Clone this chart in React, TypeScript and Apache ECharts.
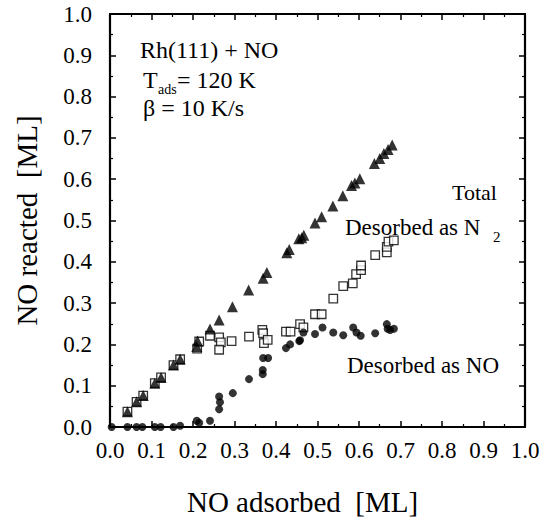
import React, { useEffect, useRef } from "react";
import * as echarts from "echarts";

const FONT = "Liberation Serif";

const tickLabels = ["0.0", "0.1", "0.2", "0.3", "0.4", "0.5", "0.6", "0.7", "0.8", "0.9", "1.0"];

// Total NO reacted (filled triangles)
const totalData: [number, number][] = [
  [0.042, 0.037], [0.064, 0.061], [0.08, 0.076], [0.108, 0.106], [0.123, 0.12],
  [0.153, 0.15], [0.169, 0.164], [0.209, 0.195], [0.211, 0.208], [0.241, 0.237],
  [0.263, 0.259], [0.295, 0.291], [0.334, 0.332], [0.369, 0.36], [0.378, 0.374],
  [0.426, 0.422], [0.432, 0.43], [0.455, 0.456], [0.462, 0.458], [0.467, 0.464],
  [0.494, 0.494], [0.51, 0.509], [0.537, 0.535], [0.561, 0.56], [0.582, 0.585],
  [0.59, 0.591], [0.602, 0.601], [0.637, 0.638], [0.65, 0.65], [0.66, 0.662],
  [0.67, 0.672], [0.68, 0.683],
];

// Desorbed as N2 (open squares)
const n2Data: [number, number][] = [
  [0.042, 0.037], [0.064, 0.061], [0.08, 0.076], [0.108, 0.106], [0.123, 0.12],
  [0.153, 0.15], [0.169, 0.164], [0.21, 0.19], [0.215, 0.207], [0.241, 0.221],
  [0.263, 0.217], [0.267, 0.205], [0.263, 0.187], [0.293, 0.208], [0.335, 0.219],
  [0.367, 0.235], [0.369, 0.227], [0.371, 0.203], [0.38, 0.211], [0.424, 0.231],
  [0.435, 0.231], [0.458, 0.249], [0.466, 0.241], [0.494, 0.273], [0.51, 0.273],
  [0.538, 0.311], [0.562, 0.341], [0.585, 0.348], [0.593, 0.37], [0.605, 0.38],
  [0.605, 0.391], [0.639, 0.416], [0.667, 0.423], [0.667, 0.436], [0.671, 0.449],
  [0.684, 0.452],
];

// Desorbed as NO (filled circles)
const noData: [number, number][] = [
  [0.004, 0.0], [0.042, 0.0], [0.064, 0.0], [0.078, 0.0], [0.108, 0.0],
  [0.122, 0.0], [0.153, 0.0], [0.169, 0.003], [0.209, 0.015], [0.215, 0.01],
  [0.241, 0.015], [0.263, 0.074], [0.265, 0.06], [0.263, 0.043], [0.296, 0.082],
  [0.335, 0.116], [0.368, 0.138], [0.368, 0.128], [0.369, 0.167], [0.381, 0.167],
  [0.424, 0.191], [0.434, 0.2], [0.456, 0.208], [0.458, 0.21], [0.466, 0.229],
  [0.494, 0.225], [0.512, 0.241], [0.538, 0.229], [0.562, 0.222], [0.586, 0.241],
  [0.594, 0.229], [0.604, 0.221], [0.639, 0.227], [0.667, 0.249], [0.669, 0.238],
  [0.675, 0.235], [0.684, 0.238],
];

const fmt = (v: number) => tickLabels[Math.round(v * 10)] ?? "";

function axisBase(showLabel: boolean) {
  return {
    type: "value" as const,
    min: 0,
    max: 1,
    interval: 0.1,
    axisLine: { show: true, onZero: false, lineStyle: { color: "#000", width: 2.2 } },
    axisTick: { show: true, inside: true, length: 6, lineStyle: { color: "#000", width: 1.5 } },
    minorTick: { show: true, splitNumber: 2, length: 3, lineStyle: { color: "#000", width: 1.2 } },
    splitLine: { show: false },
    axisLabel: {
      show: showLabel,
      formatter: fmt,
      fontFamily: FONT,
      fontSize: 23,
      color: "#000",
    },
  };
}

export default function App() {
  const ref = useRef<HTMLDivElement>(null);
  useEffect(() => {
    if (!ref.current) return;
    const chart = echarts.init(ref.current, undefined, { renderer: "svg" });
    const base = axisBase(true);
    const txt = (text: string, x: number, y: number, size: number) => ({
      type: "text",
      x,
      y,
      style: { text, fontFamily: FONT, fontSize: size, fill: "#000", textVerticalAlign: "middle" },
    });
    const option = {
      animation: false,
      backgroundColor: "#fff",
      textStyle: { fontFamily: FONT },
      grid: { left: 110, top: 14, right: 20, bottom: 93, containLabel: false },
      xAxis: [
        {
          ...base,
          position: "bottom",
          axisLabel: { ...base.axisLabel, margin: 12 },
          name: "NO adsorbed  [ML]",
          nameLocation: "middle",
          nameGap: 60,
          nameTextStyle: { fontFamily: FONT, fontSize: 29, color: "#000", padding: [0, 30, 0, 0] },
        },
        { ...axisBase(false), position: "top" },
      ],
      yAxis: [
        {
          ...base,
          position: "left",
          axisLabel: { ...base.axisLabel, margin: 18 },
          name: "NO reacted  [ML]",
          nameLocation: "middle",
          nameGap: 69,
          nameTextStyle: { fontFamily: FONT, fontSize: 29, color: "#000" },
        },
        { ...axisBase(false), position: "right" },
      ],
      graphic: [
        txt("Rh(111) + NO", 140, 50, 24),
        txt("T", 143, 80, 24),
        txt("ads", 158, 89, 14),
        txt("= 120 K", 177, 80, 24),
        txt("β = 10 K/s", 143, 108, 24),
        txt("Total", 452, 192, 22),
        txt("Desorbed as N", 345, 227, 23),
        txt("2", 493, 237, 15),
        txt("Desorbed as NO", 347, 365, 23),
      ],
      series: [
        {
          type: "scatter",
          name: "Desorbed as N2",
          data: n2Data,
          symbol: "rect",
          symbolSize: 8.5,
          itemStyle: { color: "#fff", borderColor: "#000", borderWidth: 1.3 },
          z: 2,
        },
        {
          type: "scatter",
          name: "Total",
          data: totalData,
          symbol: "triangle",
          symbolSize: 11,
          itemStyle: { color: "#000" },
          z: 3,
        },
        {
          type: "scatter",
          name: "Desorbed as NO",
          data: noData,
          symbol: "circle",
          symbolSize: 8,
          itemStyle: { color: "#000" },
          z: 3,
        },
      ],
    };
    chart.setOption(option as any);
    return () => chart.dispose();
  }, []);
  return (
    <div
      ref={ref}
      style={{ position: "fixed", left: 0, top: 0, width: 545, height: 521, background: "#fff" }}
    />
  );
}
